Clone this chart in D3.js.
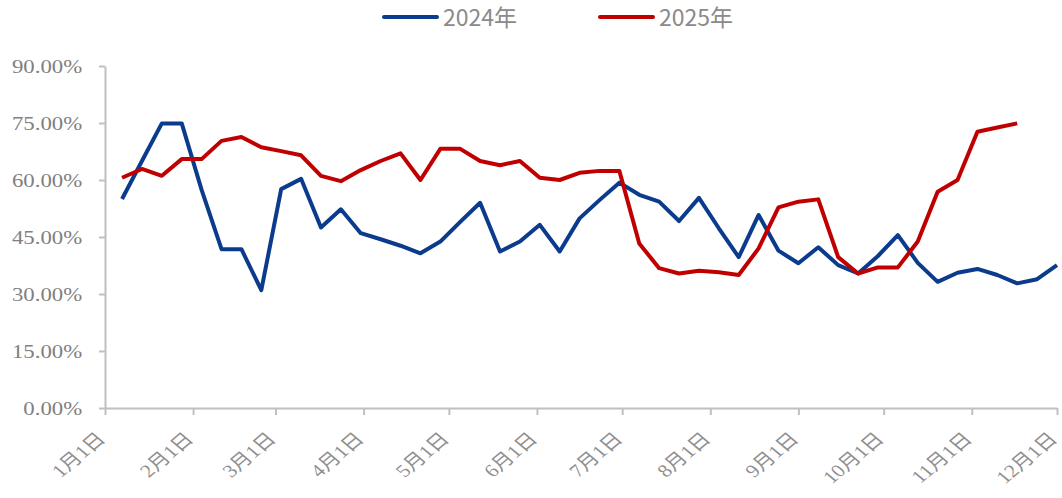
<!DOCTYPE html>
<html>
<head>
<meta charset="utf-8">
<script src="https://cdn.jsdelivr.net/npm/d3@7"></script>
<style>
  body { margin: 0; background: #fff; }
</style>
</head>
<body>
<div id="chart"></div>
<script>
// weekly observation dates (month-day, plotted on a 2024 calendar axis)
var weeks = [
  "01-07","01-14","01-21","01-28","02-04","02-11","02-18","02-25",
  "03-03","03-10","03-17","03-24","03-31","04-07","04-14","04-21","04-28",
  "05-05","05-12","05-19","05-26","06-02","06-09","06-16","06-23","06-30",
  "07-07","07-14","07-21","07-28","08-04","08-11","08-18","08-25",
  "09-01","09-08","09-15","09-22","09-29","10-06","10-13","10-20","10-27",
  "11-03","11-10","11-17","11-24","12-01"
];

// values in percent
var values2024 = [
  55.0, 65.0, 74.9, 74.9, 57.4, 41.8, 41.8, 31.0, 57.6, 60.3, 47.5, 52.3,
  46.0, 44.4, 42.7, 40.7, 43.8, 49.0, 54.0, 41.2, 43.8, 48.2, 41.2, 49.9,
  54.7, 59.3, 56.1, 54.3, 49.2, 55.3, 47.3, 39.7, 50.8, 41.4, 38.1, 42.3,
  37.6, 35.4, 40.0, 45.5, 38.2, 33.2, 35.6, 36.6, 35.0, 32.8, 33.9, 37.6
];
var values2025 = [
  60.6, 62.9, 61.1, 65.5, 65.5, 70.3, 71.3, 68.6, 67.6, 66.5, 61.1, 59.7,
  62.6, 65.0, 67.0, 60.0, 68.2, 68.2, 65.0, 63.9, 65.0, 60.6, 60.0, 61.9,
  62.4, 62.4, 43.3, 36.8, 35.4, 36.1, 35.7, 35.0, 42.0, 52.8, 54.3, 54.9,
  39.7, 35.4, 37.0, 37.0, 43.8, 56.9, 60.0, 72.7, 73.8, 74.9
];

var monthTicks = ["01-01","02-01","03-01","04-01","05-01","06-01",
                  "07-01","08-01","09-01","10-01","11-01","12-01"];
var monthLabels = ["1月1日","2月1日","3月1日","4月1日","5月1日","6月1日",
                   "7月1日","8月1日","9月1日","10月1日","11月1日","12月1日"];
var yTicks = [0, 15, 30, 45, 60, 75, 90];

var seriesNames = ["2024年", "2025年"];
var seriesColors = ["#0b3b8c", "#c00000"];

var W = 1062, H = 498;
var plot = {left: 105, right: 1057, top: 66, bottom: 408};

var parse = d3.timeParse("%Y-%m-%d");
var toDate = function (md) { return parse("2024-" + md); };

var svg = d3.select("#chart").append("svg")
    .attr("width", W)
    .attr("height", H);

var x = d3.scaleTime()
    .domain([toDate("01-01"), toDate("12-01")])
    .range([plot.left, plot.right]);

var y = d3.scaleLinear()
    .domain([0, 90])
    .range([plot.bottom, plot.top]);

// y axis
var yAxis = svg.append("g")
    .attr("transform", `translate(${plot.left},0)`)
    .call(d3.axisLeft(y)
        .tickValues(yTicks)
        .tickSize(6)
        .tickSizeOuter(0)
        .tickFormat(function (d) { return d.toFixed(2) + "%"; }));
yAxis.selectAll("path, line").attr("stroke", "#c0c0c0").attr("stroke-width", 2);
yAxis.selectAll("text")
    .attr("x", -19)
    .attr("dy", "0.33em")
    .attr("transform", "scale(1.2,1)")
    .style("font-family", "'Liberation Serif', 'Times New Roman', serif")
    .style("font-size", "19px")
    .attr("fill", "#808080");

// x axis
var xAxis = svg.append("g")
    .attr("transform", `translate(0,${plot.bottom})`)
    .call(d3.axisBottom(x)
        .tickValues(monthTicks.map(toDate))
        .tickSize(7)
        .tickSizeOuter(0)
        .tickFormat(function (d, i) { return monthLabels[i]; }));
xAxis.selectAll("path, line").attr("stroke", "#c0c0c0").attr("stroke-width", 2);
xAxis.selectAll("text")
    .attr("x", 0)
    .attr("y", 0)
    .attr("dy", 0)
    .attr("text-anchor", "end")
    .attr("transform", "translate(1,32) scale(1.2,1) rotate(-45)")
    .style("font-family", "'Liberation Serif', 'Noto Sans CJK SC', serif")
    .style("font-size", "18px")
    .attr("fill", "#8f8f8f");

// lines
var line = d3.line()
    .x(function (d) { return x(toDate(d[0])); })
    .y(function (d) { return y(d[1]); });

[values2024, values2025].forEach(function (vals, k) {
    var pts = vals.map(function (v, i) { return [weeks[i], v]; });
    svg.append("path")
        .datum(pts)
        .attr("fill", "none")
        .attr("stroke", seriesColors[k])
        .attr("stroke-width", 4)
        .attr("stroke-linejoin", "round")
        .attr("d", line);
});

// legend
var legendX = [384, 600];
seriesNames.forEach(function (name, k) {
    var g = svg.append("g").attr("transform", `translate(${legendX[k]},17)`);
    g.append("line")
        .attr("x1", 0).attr("x2", 53)
        .attr("stroke", seriesColors[k])
        .attr("stroke-width", 4)
        .attr("stroke-linecap", "round");
    g.append("text")
        .attr("x", 59)
        .attr("y", 9)
        .text(name)
        .style("font-family", "'Noto Sans CJK SC', sans-serif")
        .style("font-size", "23px")
        .attr("fill", "#8a8a8a");
});
</script>
</body>
</html>
